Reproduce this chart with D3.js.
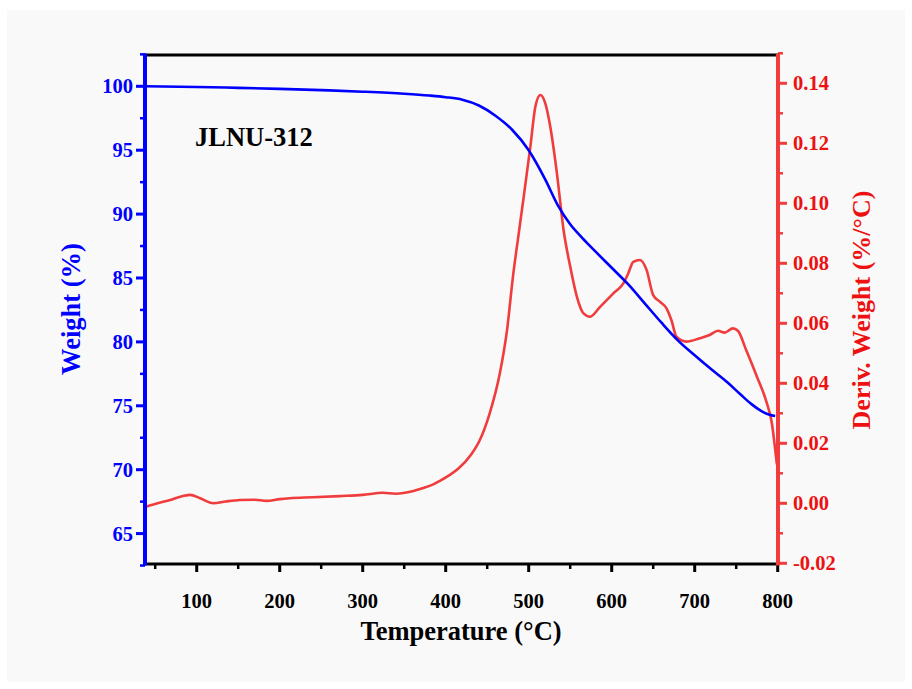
<!DOCTYPE html>
<html>
<head>
<meta charset="utf-8">
<script src="https://cdn.jsdelivr.net/npm/d3@7"></script>
<style>
  html, body { margin: 0; padding: 0; background: #ffffff; }
  svg { display: block; }
  text { font-family: "Liberation Serif", "Times New Roman", serif; font-weight: bold; }
</style>
</head>
<body>
<svg id="chart" width="912" height="689"></svg>
<script>
// TGA of JLNU-312: weight loss and its derivative vs temperature
const sampleName = "JLNU-312";

// Weight curve (temperature °C, weight %)
const weightTemp = [38, 100, 150, 200, 250, 300, 350, 380, 400, 420, 440, 460, 480, 500, 520, 535, 550, 565, 580, 600, 620, 640, 660, 680, 700, 720, 740, 755, 768, 780, 790, 797];
const weightVal  = [100.0, 99.95, 99.88, 99.8, 99.7, 99.58, 99.42, 99.28, 99.15, 98.95, 98.5, 97.7, 96.6, 95.0, 92.7, 90.7, 89.2, 88.1, 87.1, 85.8, 84.5, 83.0, 81.5, 80.1, 78.95, 77.85, 76.8, 75.9, 75.15, 74.6, 74.3, 74.2];

// Derivative weight curve (temperature °C, %/°C)
const derivTemp = [38, 55, 68, 80, 92, 104, 120, 135, 152, 170, 184, 200, 212, 240, 272, 300, 324, 340, 360, 372, 385, 393, 405, 415, 430, 441, 453, 465, 474, 481, 488, 494, 502, 508, 514, 520, 526, 534, 542, 550, 558, 566, 574, 586, 602, 614, 620, 626, 634, 642, 650, 658, 666, 672, 678, 690, 706, 718, 728, 736, 746, 752, 762, 775, 787, 793, 797, 799];
const derivVal  = [-0.0012, 0.0002, 0.0011, 0.0022, 0.0028, 0.0017, 0.0, 0.0006, 0.0011, 0.0012, 0.0008, 0.0014, 0.0017, 0.0020, 0.0024, 0.0028, 0.0035, 0.0032, 0.0040, 0.0050, 0.0063, 0.0075, 0.0095, 0.0115, 0.016, 0.021, 0.030, 0.043, 0.058, 0.0755, 0.090, 0.1022, 0.1189, 0.1322, 0.1361, 0.1333, 0.1255, 0.110, 0.0911, 0.0789, 0.0689, 0.0633, 0.0622, 0.0655, 0.0700, 0.0733, 0.0767, 0.0805, 0.0811, 0.0778, 0.0694, 0.0672, 0.0650, 0.0610, 0.0555, 0.0539, 0.0550, 0.0561, 0.0575, 0.0569, 0.0583, 0.0575, 0.0511, 0.0422, 0.0333, 0.0267, 0.0178, 0.0130];

// Axis tick values
const xTicks = [100, 200, 300, 400, 500, 600, 700, 800];
const xMinorTicks = [50, 150, 250, 350, 450, 550, 650, 750];
const leftTicks = [65, 70, 75, 80, 85, 90, 95, 100];
const leftMinorTicks = [62.5, 67.5, 72.5, 77.5, 82.5, 87.5, 92.5, 97.5, 102.5];
const rightTicks = [-0.02, 0.00, 0.02, 0.04, 0.06, 0.08, 0.10, 0.12, 0.14];
const rightMinorTicks = [-0.01, 0.01, 0.03, 0.05, 0.07, 0.09, 0.11, 0.13, 0.15];

const blue = "#0000ff";
const red = "#f03c3c";
const redText = "#ee1111";

const svg = d3.select("#chart");
const plot = { left: 145, right: 778, top: 55, bottom: 564 };

// Panel background
svg.append("rect").attr("x", 7).attr("y", 10).attr("width", 898).attr("height", 672).attr("fill", "#f9f9f9");

const x = d3.scaleLinear().domain([37.7, 800]).range([plot.left, 777.7]);
const yL = d3.scaleLinear().domain([62.62, 102.45]).range([plot.bottom, plot.top]);
const yR = d3.scaleLinear().domain([-0.02, 0.15]).range([563.3, 53.3]);

// Curves
const weightData = weightTemp.map((t, i) => [t, weightVal[i]]);
const derivData = derivTemp.map((t, i) => [t, derivVal[i]]);

svg.append("path")
  .datum(derivData)
  .attr("fill", "none")
  .attr("stroke", red)
  .attr("stroke-width", 2.6)
  .attr("stroke-linejoin", "round")
  .attr("d", d3.line().x(d => x(d[0])).y(d => yR(d[1])).curve(d3.curveMonotoneX));

svg.append("path")
  .datum(weightData)
  .attr("fill", "none")
  .attr("stroke", blue)
  .attr("stroke-width", 2.6)
  .attr("stroke-linejoin", "round")
  .attr("d", d3.line().x(d => x(d[0])).y(d => yL(d[1])).curve(d3.curveMonotoneX));

// Frame: top black
svg.append("line").attr("x1", plot.left).attr("x2", plot.right).attr("y1", plot.top).attr("y2", plot.top)
  .attr("stroke", "#000").attr("stroke-width", 3);

// Bottom axis
const bottomG = svg.append("g").attr("transform", `translate(0,${plot.bottom})`);
bottomG.append("line").attr("x1", plot.left).attr("x2", plot.right).attr("stroke", "#000").attr("stroke-width", 3);
bottomG.selectAll(".maj").data(xTicks).join("line")
  .attr("x1", d => x(d)).attr("x2", d => x(d)).attr("y1", 0).attr("y2", 8)
  .attr("stroke", "#000").attr("stroke-width", 3);
bottomG.selectAll(".min").data(xMinorTicks).join("line")
  .attr("x1", d => x(d)).attr("x2", d => x(d)).attr("y1", 0).attr("y2", 5)
  .attr("stroke", "#000").attr("stroke-width", 2.5);
bottomG.selectAll("text.tl").data(xTicks).join("text")
  .attr("class", "tl")
  .attr("x", d => x(d)).attr("y", 44)
  .attr("text-anchor", "middle").attr("font-size", 20.5).attr("fill", "#000")
  .text(d => d);

// Left axis
const leftG = svg.append("g").attr("transform", `translate(${plot.left},0)`);
leftG.append("line").attr("y1", plot.top - 1.5).attr("y2", plot.bottom + 1.5).attr("stroke", blue).attr("stroke-width", 4);
leftG.selectAll(".maj").data(leftTicks).join("line")
  .attr("y1", d => yL(d)).attr("y2", d => yL(d)).attr("x1", 0).attr("x2", -9)
  .attr("stroke", blue).attr("stroke-width", 3);
leftG.selectAll(".min").data(leftMinorTicks).join("line")
  .attr("y1", d => yL(d)).attr("y2", d => yL(d)).attr("x1", 0).attr("x2", -5)
  .attr("stroke", blue).attr("stroke-width", 2.5);
leftG.selectAll("text.tl").data(leftTicks).join("text")
  .attr("class", "tl")
  .attr("x", -12).attr("y", d => yL(d) + 7)
  .attr("text-anchor", "end").attr("font-size", 20.5).attr("fill", blue)
  .text(d => d);

// Right axis
const rightG = svg.append("g").attr("transform", `translate(${plot.right},0)`);
rightG.append("line").attr("y1", plot.top - 1.5).attr("y2", plot.bottom + 1.5).attr("stroke", red).attr("stroke-width", 4);
rightG.selectAll(".maj").data(rightTicks).join("line")
  .attr("y1", d => yR(d)).attr("y2", d => yR(d)).attr("x1", 0).attr("x2", 9)
  .attr("stroke", red).attr("stroke-width", 3);
rightG.selectAll(".min").data(rightMinorTicks).join("line")
  .attr("y1", d => yR(d)).attr("y2", d => yR(d)).attr("x1", 0).attr("x2", 5)
  .attr("stroke", red).attr("stroke-width", 2.5);
rightG.selectAll("text.tl").data(rightTicks).join("text")
  .attr("class", "tl")
  .attr("x", 15).attr("y", d => yR(d) + 7)
  .attr("text-anchor", "start").attr("font-size", 20.5).attr("fill", redText)
  .text(d => d3.format(".2f")(d).replace("−", "-"));

// Axis titles
svg.append("text")
  .attr("x", (plot.left + plot.right) / 2 - 0.5).attr("y", 640)
  .attr("text-anchor", "middle").attr("font-size", 26.5).attr("fill", "#000")
  .text("Temperature (°C)");

svg.append("text")
  .attr("transform", "translate(80,309) rotate(-90)")
  .attr("text-anchor", "middle").attr("font-size", 26.5).attr("fill", blue)
  .text("Weight (%)");

svg.append("text")
  .attr("transform", "translate(870,310) rotate(-90)")
  .attr("text-anchor", "middle").attr("font-size", 26).attr("fill", redText)
  .text("Deriv. Weight (%/°C)");

// Sample label
svg.append("text")
  .attr("x", 195).attr("y", 146)
  .attr("font-size", 26.5).attr("fill", "#000")
  .text(sampleName);
</script>
</body>
</html>
